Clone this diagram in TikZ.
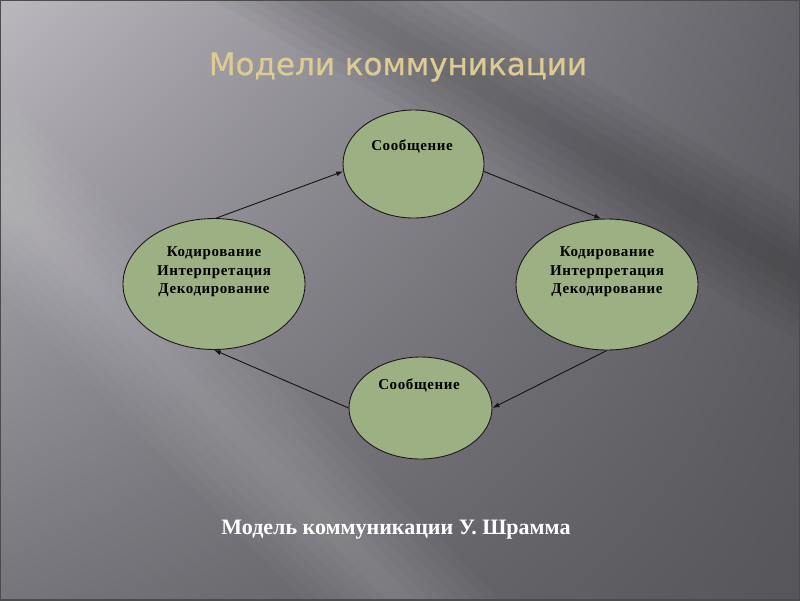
\documentclass[tikz,border=0pt]{standalone}
\usepackage{fontspec}
\setmainfont{Liberation Serif}
\newfontfamily\titlefont[FakeBold=0.6]{DejaVu Sans}
\usetikzlibrary{arrows.meta,shapes.geometric,shadings,calc}
\definecolor{ellfill}{RGB}{157,176,131}
\definecolor{titlecol}{RGB}{220,204,148}
\definecolor{bgul}{RGB}{186,184,190}
\definecolor{bgur}{RGB}{100,99,105}
\definecolor{bgll}{RGB}{118,117,123}
\definecolor{bglr}{RGB}{86,85,90}
\begin{document}
\begin{tikzpicture}[x=1pt,y=-1pt,
  ell/.style={ellipse,draw=black!90,line width=0.9pt,fill=ellfill,inner sep=0pt},
  etext/.style={font=\fontsize{15}{18.5}\selectfont\bfseries\addfontfeature{LetterSpace=4},align=center,text=black,inner sep=0pt},
  conn/.style={line width=0.9pt,draw=black!92,-{Latex[length=7pt,width=5pt]}}]
\useasboundingbox (0,0) rectangle (800,600);
% background
\begin{scope}
\clip (0,0) rectangle (800,600);
\shade[upper left=bgul,upper right=bgur,lower left=bgll,lower right=bglr] (0,0) rectangle (800,600);
\foreach \w in {10,20,...,70}{
  \fill[white,opacity=0.025] ($(-100,90)+(0.716*\w,-0.698*\w)$) -- ($(500,700)+(0.716*\w,-0.698*\w)$)
     -- ($(500,700)-(0.716*\w,-0.698*\w)$) -- ($(-100,90)-(0.716*\w,-0.698*\w)$) -- cycle;
}
\foreach \w in {10,20,...,60}{
  \fill[black,opacity=0.03] ($(230,-60)+(0.5*\w,-0.866*\w)$) -- ($(900,330)+(0.5*\w,-0.866*\w)$)
     -- ($(900,330)-(0.5*\w,-0.866*\w)$) -- ($(230,-60)-(0.5*\w,-0.866*\w)$) -- cycle;
}
\end{scope}
\draw[line width=1.2pt,color=black!70] (0,0) rectangle (800,600);
% title
\node (title) [font=\titlefont\fontsize{31}{36}\selectfont,text=titlecol] at (398,67) {Модели коммуникации};
% ellipses
\node (top) [ell,minimum width=141pt,minimum height=108pt] at (413.5,164) {};
\node (left) [ell,minimum width=182pt,minimum height=131pt] at (214,284) {};
\node (right) [ell,minimum width=182pt,minimum height=131pt] at (607,284.5) {};
\node (bot) [ell,minimum width=143pt,minimum height=102pt] at (420.5,408) {};
% texts
\node (ttop) [etext] at (412,146) {Сообщение};
\node (tleft) [etext] at (214,272) {Кодирование\\Интерпретация\\Декодирование};
\node (tright) [etext] at (607,272) {Кодирование\\Интерпретация\\Декодирование};
\node (tbot) [etext] at (419,385) {Сообщение};
% connectors
\draw[conn] (left.88) -- (top.186);
\draw[conn] (top.-6) -- (right.95);
\draw[conn] (right.south) -- (bot.east);
\draw[conn] (bot.west) -- (left.south);
% caption
\node (caption) [font=\fontsize{22}{26}\selectfont\bfseries,text=white] at (396,530) {Модель коммуникации У.~Шрамма};
\end{tikzpicture}
\end{document}
